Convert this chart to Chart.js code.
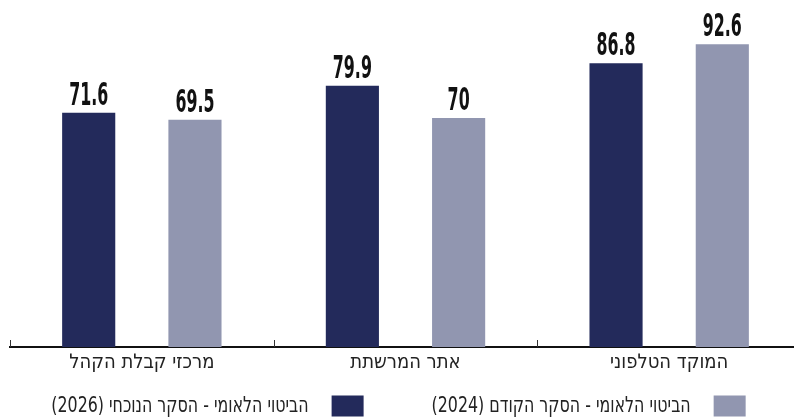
<!DOCTYPE html>
<html lang="he">
<head>
    <meta charset="UTF-8">
    <title>סקר</title>
    <script src="https://cdn.jsdelivr.net/npm/chart.js"></script>
    <style>
        body{ margin:0; overflow:hidden; background:#fff; }
        #wrap{ position:absolute; left:0; top:0; width:802px; height:417px; }
    </style>
</head>
<body>
    <div id="wrap"><canvas id="myChart" width="802" height="417"></canvas></div>

    <script>
        // 데이터
        const categories = ['מרכזי קבלת הקהל', 'אתר המרשתת', 'המוקד הטלפוני'];
        const series_names = ['הביטוי הלאומי - הסקר הנוכחי (2026)', 'הביטוי הלאומי - הסקר הקודם (2024)'];
        const current_2026 = [71.6, 79.9, 86.8];
        const previous_2024 = [69.5, 70, 92.6];
        const colors = ['#232a5b', '#9196b0'];

        const cond = "'DejaVu Sans Condensed', sans-serif";

        // 막대 위 값 표시
        const valueLabels = {
            id: 'valueLabels',
            afterDatasetsDraw(chart){
                const ctx = chart.ctx;
                chart.data.datasets.forEach((ds, di) => {
                    chart.getDatasetMeta(di).data.forEach((bar, i) => {
                        ctx.save();
                        ctx.translate(bar.x, bar.y - 8);
                        ctx.scale(0.55, 1);
                        ctx.font = "bold 32px " + cond;
                        ctx.fillStyle = '#111';
                        ctx.textAlign = 'center';
                        ctx.textBaseline = 'alphabetic';
                        ctx.fillText(String(ds.data[i]), 0, 0);
                        ctx.restore();
                    });
                });
            }
        };

        // x축 눈금 (위로)
        const axisTicks = {
            id: 'axisTicks',
            afterDraw(chart){
                const ctx = chart.ctx;
                const xs = chart.scales.x;
                const half = (xs.getPixelForValue(1) - xs.getPixelForValue(0)) / 2;
                ctx.save();
                ctx.strokeStyle = '#333';
                ctx.lineWidth = 1;
                for(let i = 0; i <= categories.length; i++){
                    const x = Math.round(xs.getPixelForValue(i) - half) + 0.5;
                    ctx.beginPath();
                    ctx.moveTo(x, xs.top - 7);
                    ctx.lineTo(x, xs.top);
                    ctx.stroke();
                }
                ctx.restore();
            }
        };

        // 범례 (오른쪽부터, 좁은 글꼴)
        const rtlLegend = {
            id: 'rtlLegend',
            afterDraw(chart){
                const ctx = chart.ctx;
                const sx = 0.8, box = 32, boxH = 21, gap = 23, between = 68;
                const cy = 406;
                ctx.save();
                ctx.font = "22px " + cond;
                const items = chart.data.datasets.map(ds => ({
                    text: ds.label, color: ds.backgroundColor,
                    w: ctx.measureText(ds.label).width * sx
                })).reverse();
                const total = items.reduce((s, it) => s + box + gap + it.w, 0) + between * (items.length - 1);
                let right = 398.5 + total / 2;
                items.forEach(it => {
                    ctx.fillStyle = it.color;
                    ctx.fillRect(right - box, cy - boxH / 2, box, boxH);
                    const tr = right - box - gap;
                    ctx.save();
                    ctx.translate(tr, cy);
                    ctx.scale(sx, 1);
                    ctx.fillStyle = '#222';
                    ctx.textAlign = 'right';
                    ctx.textBaseline = 'middle';
                    ctx.fillText(it.text, 0, 0);
                    ctx.restore();
                    right = tr - it.w - between;
                });
                ctx.restore();
            }
        };

        const ctx = document.getElementById('myChart').getContext('2d');
        new Chart(ctx, {
            type: 'bar',
            data: {
                labels: categories,
                datasets: [
                    { label: series_names[0], data: current_2026, backgroundColor: colors[0] },
                    { label: series_names[1], data: previous_2024, backgroundColor: colors[1] }
                ]
            },
            options: {
                responsive: false,
                animation: false,
                layout: { padding: { left: 10, right: 1, top: 20, bottom: 38 } },
                datasets: { bar: { categoryPercentage: 0.806, barPercentage: 0.5 } },
                scales: {
                    x: {
                        grid: { display: false, drawTicks: false },
                        border: { display: true, color: '#111', width: 2 },
                        ticks: {
                            color: '#222',
                            font: { family: cond, size: 20 },
                            padding: 4
                        }
                    },
                    y: {
                        display: false,
                        min: 0,
                        max: 100
                    }
                },
                plugins: {
                    legend: { display: false },
                    tooltip: { enabled: false }
                }
            },
            plugins: [valueLabels, axisTicks, rtlLegend]
        });
    </script>
</body>
</html>
